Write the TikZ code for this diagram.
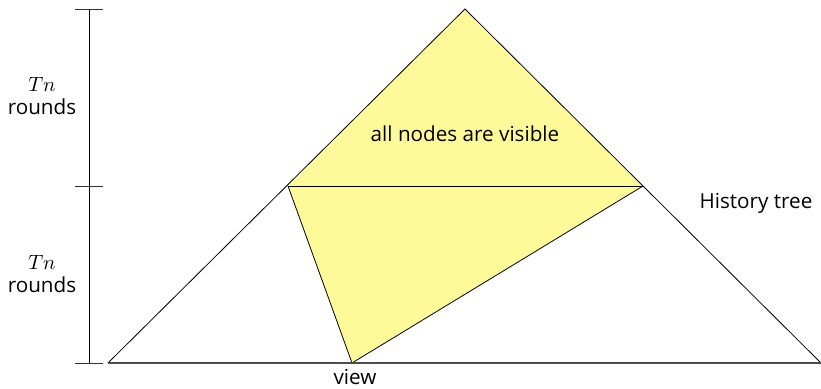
\documentclass[tikz,border=0pt]{standalone}
\usepackage{fontspec}
\setmainfont{Open Sans}
\begin{document}
\begin{tikzpicture}[x=0.75pt,y=-0.75pt,
  lbl/.style={inner sep=0pt,font=\fontsize{15.5}{18}\selectfont},
  mlbl/.style={inner sep=0pt,font=\normalsize,scale=1.55},
  edge/.style={draw=black,line width=0.6pt},
  region/.style={fill=yellow!40}]
\useasboundingbox (0,0) rectangle (821,389);
% key points
\coordinate (apex) at (465,9);
\coordinate (bl) at (108,363);
\coordinate (br) at (821,363);
\coordinate (ml) at (288,186);
\coordinate (mr) at (643,186);
\coordinate (vw) at (352,363);
% yellow regions
\fill[region] (apex) -- (ml) -- (mr) -- cycle;
\fill[region] (ml) -- (mr) -- (vw) -- cycle;
\draw[edge] (ml) -- (vw) -- (mr);
\draw[edge] (ml) -- (mr);
% outer triangle
\draw[edge] (bl) -- (apex) -- (br);
\draw[edge,draw=black!70,line width=0.8pt] (bl) -- (br);
% scale bar
\coordinate (s0) at (89,9);
\coordinate (s1) at (89,186);
\coordinate (s2) at (89,363);
\draw[edge] (s0) -- (s2);
\foreach \p in {s0,s1,s2} \draw[edge,draw=black!80] ([xshift=-10.5]\p) -- ([xshift=10.5]\p);
% labels
\node[mlbl] (t1) at (42,84) {$Tn$};
\node[lbl] (r1) at (42,107) {rounds};
\node[mlbl] (t2) at (42,262) {$Tn$};
\node[lbl] (r2) at (42,285) {rounds};
\node[lbl] (vis) at (465,134) {all nodes are visible};
\node[lbl] (hist) at (756,203) {History tree};
\node[lbl] (view) at (355,377) {view};
\end{tikzpicture}
\end{document}
